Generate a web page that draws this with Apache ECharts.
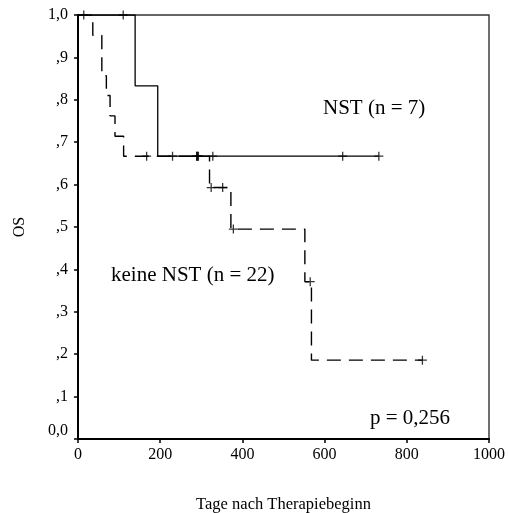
<!DOCTYPE html>
<html>
<head>
<meta charset="utf-8">
<script src="https://cdn.jsdelivr.net/npm/echarts@6/dist/echarts.min.js"></script>
<style>html,body{margin:0;padding:0;background:#fff}#c{width:509px;height:513px}</style>
</head>
<body>
<div id="c"></div>
<script>
// Kaplan-Meier step points [days, survival]
var nstCurve = [[0,1],[139,0.833],[194,0.667],[732,0.667]];
var nstCensored = [[110,1],[289,0.667],[328,0.667],[644,0.667],[732,0.667]];
var keineCurve = [[0,1],[36,0.952],[58,0.857],[69,0.810],[78,0.762],[90,0.714],[111,0.667],[320,0.593],[372,0.495],[552,0.371],[568,0.186],[838,0.186]];
var keineCensored = [[14,1],[167,0.667],[230,0.667],[289,0.667],[291,0.667],[293,0.667],[324,0.593],[352,0.593],[378,0.495],[565,0.371],[838,0.186]];
var yTickLabels = {0:'{z|0,0}',1:',1',2:',2',3:',3',4:',4',5:',5',6:',6',7:',7',8:',8',9:',9',10:'1,0'};
var xTickLabels = {0:'0',200:'200',400:'400',600:'600',800:'800',1000:'1000'};

var font = 'Liberation Serif';
var plus = 'path://M6,0H8V6H14V8H8V14H6V8H0V6H6Z';
var chart = echarts.init(document.getElementById('c'));
chart.setOption({
  animation: false,
  backgroundColor: '#fff',
  grid: {left: 78, right: 20, top: 15, bottom: 74, containLabel: false, outerBoundsMode: 'none',
         show: true, borderColor: '#333', borderWidth: 1.4, backgroundColor: 'transparent'},
  xAxis: {
    type: 'value', min: 0, max: 1000, interval: 200,
    name: 'Tage nach Therapiebeginn', nameLocation: 'middle', nameGap: 57,
    nameTextStyle: {fontFamily: font, fontSize: 16.5, color: '#000'},
    axisLine: {lineStyle: {color: '#000', width: 2}},
    axisTick: {length: 4, lineStyle: {color: '#000', width: 1.5}},
    axisLabel: {fontFamily: font, fontSize: 16, color: '#000', margin: 8,
      formatter: function(v){ return xTickLabels[v]; }},
    splitLine: {show: false}
  },
  yAxis: {
    type: 'value', min: 0, max: 1, interval: 0.1,
    name: 'OS', nameLocation: 'middle', nameGap: 50, nameRotate: 90,
    nameTextStyle: {fontFamily: font, fontSize: 16, color: '#000'},
    axisLine: {lineStyle: {color: '#000', width: 2}},
    axisTick: {length: 4, lineStyle: {color: '#000', width: 1.5}},
    axisLabel: {fontFamily: font, fontSize: 16, color: '#000', margin: 10,
      formatter: function(v){ return yTickLabels[Math.round(v*10)]; },
      rich: {z: {fontFamily: font, fontSize: 16, color: '#000', padding: [0, 0, 16, 0]}}},
    splitLine: {show: false}
  },
  series: [
    {name: 'NST', type: 'line', step: 'end', data: nstCurve, showSymbol: false, symbol: 'none',
     lineStyle: {color: '#000', width: 1.3}},
    {name: 'keine NST', type: 'line', step: 'end', data: keineCurve, showSymbol: false, symbol: 'none',
     lineStyle: {color: '#000', width: 1.4, type: [14, 8]}},
    {name: 'NST zensiert', type: 'scatter', data: nstCensored, symbol: plus, symbolSize: 9,
     itemStyle: {color: '#000'}},
    {name: 'keine NST zensiert', type: 'scatter', data: keineCensored, symbol: plus, symbolSize: 9,
     itemStyle: {color: '#000'}}
  ],
  graphic: [
    {type: 'text', left: 323, top: 98, style: {text: 'NST (n = 7)', font: '21px "Liberation Serif"', fill: '#000'}},
    {type: 'text', left: 111, top: 265, style: {text: 'keine NST (n = 22)', font: '21px "Liberation Serif"', fill: '#000'}},
    {type: 'text', left: 370, top: 408, style: {text: 'p = 0,256', font: '21px "Liberation Serif"', fill: '#000'}}
  ]
});
</script>
</body>
</html>
